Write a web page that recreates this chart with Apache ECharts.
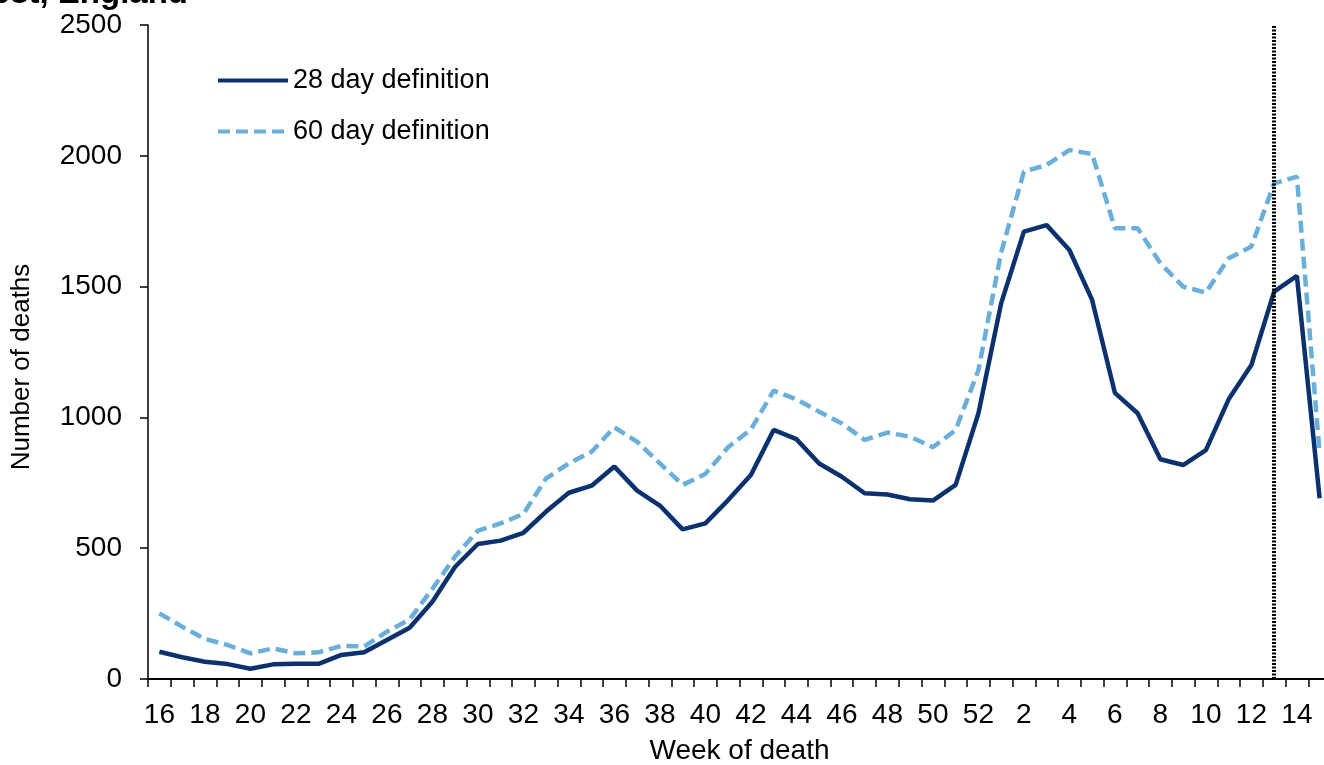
<!DOCTYPE html>
<html>
<head>
<meta charset="utf-8">
<script src="https://cdn.jsdelivr.net/npm/echarts@6/dist/echarts.min.js"></script>
<style>
html,body{margin:0;padding:0;background:#fff;}
#chart{width:1324px;height:765px;}
</style>
</head>
<body>
<div id="chart"></div>
<script>
const weeks = ['16','17','18','19','20','21','22','23','24','25','26','27','28','29','30','31','32','33','34','35','36','37','38','39','40','41','42','43','44','45','46','47','48','49','50','51','52','1','2','3','4','5','6','7','8','9','10','11','12','13','14','15'];
const def28 = [104,83,66,57,39,56,58,58,92,102,149,196,295,429,516,529,559,640,712,739,812,720,663,572,595,684,780,952,917,824,773,710,705,687,682,742,1015,1436,1710,1735,1640,1449,1094,1016,840,818,875,1069,1200,1481,1541,691];
const def60 = [251,200,153,130,98,117,98,102,127,124,181,228,345,468,567,595,631,767,824,869,962,907,824,742,784,886,954,1102,1069,1022,977,914,942,926,886,952,1180,1630,1939,1965,2022,2007,1723,1723,1589,1500,1477,1608,1653,1895,1920,863];
const yTicks = [0,500,1000,1500,2000,2500];
const markerWeek = '13';
const seriesNames = ['28 day definition','60 day definition'];
const titleText = 'North West, England';
const yTitle = 'Number of deaths';
const xTitle = 'Week of death';

const FONT = 'Liberation Sans, Arial, sans-serif';
const chart = echarts.init(document.getElementById('chart'), null, {renderer:'canvas'});
chart.setOption({
  animation:false,
  backgroundColor:'#ffffff',
  textStyle:{fontFamily:FONT},
  graphic:[
    {type:'text', style:{text:titleText, x:188, y:10, align:'right', verticalAlign:'bottom', font:'bold 33px ' + FONT, fill:'#000'}},
    {type:'text', x:22, y:367, rotation:Math.PI/2,
     style:{text:yTitle, x:0, y:0, align:'center', verticalAlign:'middle', font:'26px ' + FONT, fill:'#000'}}
  ],
  grid:{left:148, top:25, width:1183, bottom:86, containLabel:false, outerBoundsMode:'none'},
  legend:{
    orient:'vertical', left:216, top:67, padding:0, itemWidth:70, itemHeight:27, itemGap:24,
    itemStyle:{opacity:0},
    lineStyle:{width:4},
    textStyle:{fontSize:27, color:'#000', fontFamily:FONT},
    data:seriesNames
  },
  xAxis:{
    type:'category', data:weeks, boundaryGap:true,
    name:xTitle, nameLocation:'middle', nameGap:58,
    nameTextStyle:{fontSize:28, color:'#000', fontFamily:FONT},
    axisLine:{lineStyle:{color:'#000', width:2}},
    axisTick:{show:true, interval:0, length:8, lineStyle:{color:'#000', width:1.5}},
    axisLabel:{interval:1, fontSize:28, color:'#000', margin:22, fontFamily:FONT},
    splitLine:{show:false}
  },
  yAxis:{
    type:'value', min:0, max:2500, interval:500,
    axisLine:{show:true, lineStyle:{color:'#000', width:1.5}},
    axisTick:{show:true, length:8, lineStyle:{color:'#000', width:1.5}},
    axisLabel:{fontSize:28, color:'#000', margin:26, fontFamily:FONT,
      formatter:function(v){ return yTicks.indexOf(v) >= 0 ? String(v) : ''; }},
    splitLine:{show:false}
  },
  series:[
    {
      name:seriesNames[0], type:'line', data:def28, symbol:'none',
      lineStyle:{color:'#0b326e', width:4.5}, itemStyle:{color:'#0b326e'}, z:3,
      markLine:{
        silent:true, symbol:['none','none'], label:{show:false},
        lineStyle:{color:'#000', width:4, type:[2,1.5]},
        data:[{xAxis:markerWeek}]
      }
    },
    {
      name:seriesNames[1], type:'line', data:def60, symbol:'none',
      lineStyle:{color:'#6aafd9', width:4.5, type:[12,6]}, itemStyle:{color:'#6aafd9'}, z:2
    }
  ]
});
</script>
</body>
</html>
